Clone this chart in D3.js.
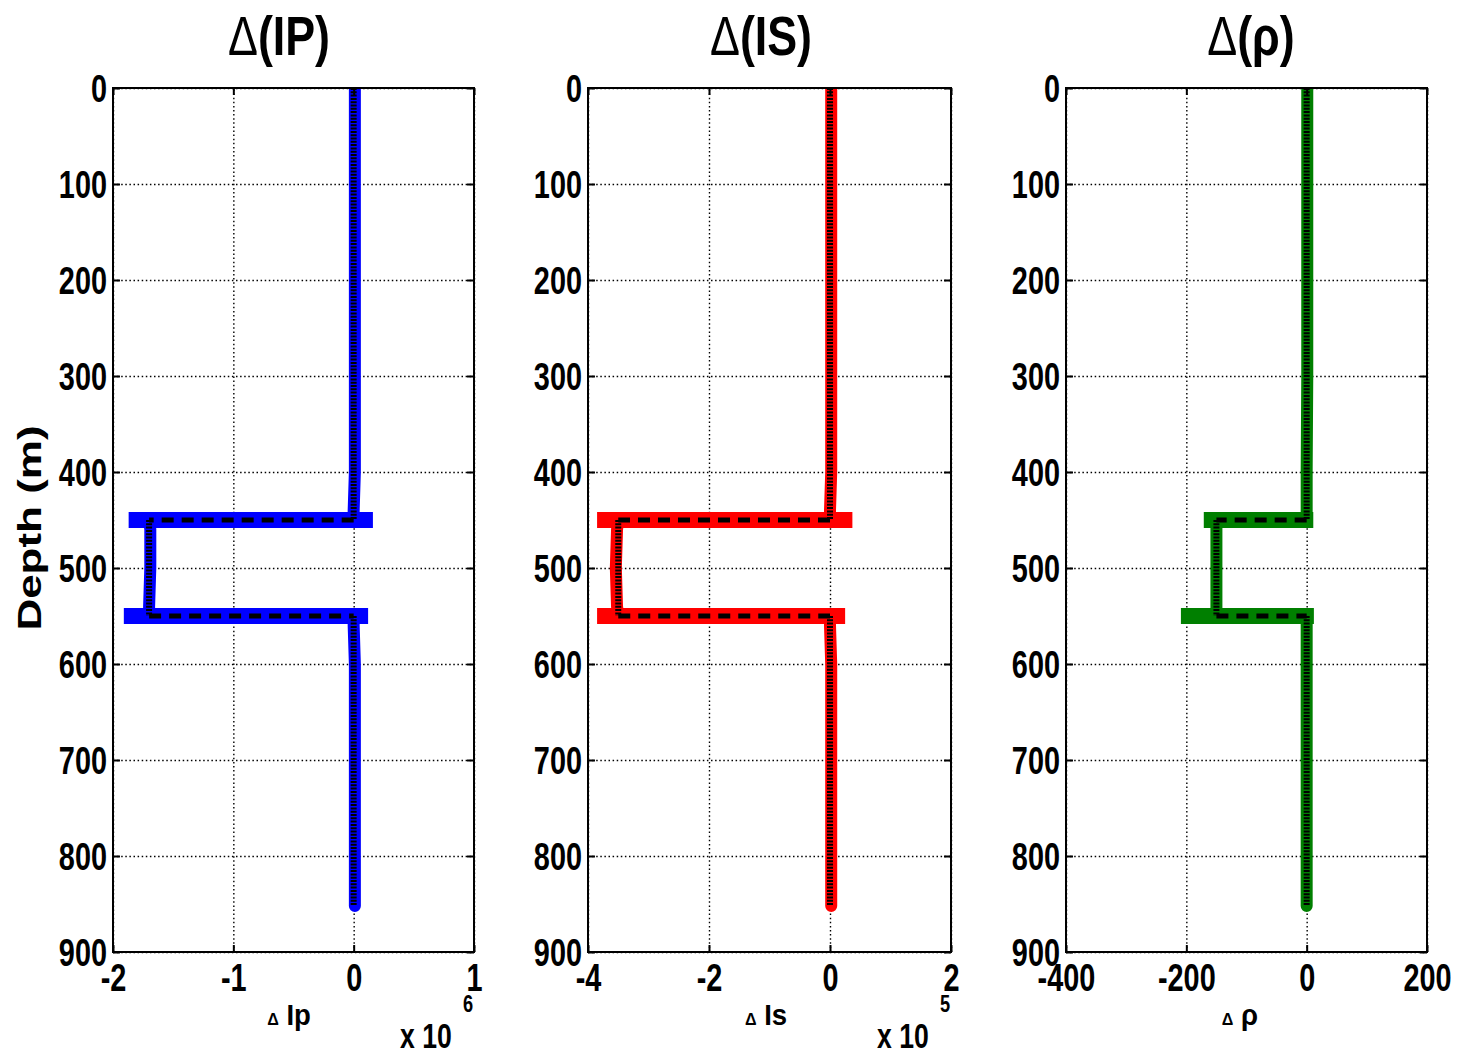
<!DOCTYPE html>
<html>
<head>
<meta charset="utf-8">
<script src="https://cdn.jsdelivr.net/npm/d3@7"></script>
<style>
  body { margin: 0; background: #fff; }
  text { font-family: "Liberation Sans", Arial, sans-serif; }
</style>
</head>
<body>
<svg id="chart" width="1459" height="1055"></svg>
<script>
// ---------- data ----------
const depthTicks = [0, 100, 200, 300, 400, 500, 600, 700, 800, 900];
const ipTicks = [-2, -1, 0, 1];          // x 10^6
const isTicks = [-4, -2, 0, 2];          // x 10^5
const rhoTicks = [-400, -200, 0, 200];

// estimated (inverted) curves
const ipDepth  = [0, 100, 200, 300, 400, 440, 450, 450, 460, 500, 540, 550, 550, 560, 600, 700, 800, 852];
const ipValue  = [0.01, 0.01, 0.01, 0.01, 0.01, 0.0, 0.0, -1.70, -1.69, -1.69, -1.70, -1.70, 0.0, 0.0, 0.01, 0.01, 0.01, 0.01];
const isDepth  = [0, 100, 200, 300, 400, 440, 450, 450, 460, 500, 540, 550, 550, 560, 600, 700, 800, 852];
const isValue  = [0.02, 0.02, 0.02, 0.02, 0.02, 0.0, 0.0, -3.5, -3.52, -3.54, -3.52, -3.5, 0.0, 0.0, 0.02, 0.02, 0.02, 0.02];
const rhoDepth = [0, 100, 200, 300, 400, 440, 450, 450, 460, 500, 540, 550, 550, 560, 600, 700, 800, 852];
const rhoValue = [1, 1, 1, 1, 0, 0, 0, -150, -150, -150, -150, -150, 0, 0, 0, 0, 0, 0];

// overshooting jump bars of the estimated curves
const jumpDepth = [450, 550];
const ipJumpFrom  = [-1.87, -1.91];
const ipJumpTo    = [0.16, 0.12];
const isJumpFrom  = [-3.85, -3.85];
const isJumpTo    = [0.37, 0.25];
const rhoJumpFrom = [-171, -209];
const rhoJumpTo   = [11, 12];

// true model (black dashed)
const trueDepth = [0, 450, 450, 550, 550, 852];
const ipTrue  = [0, 0, -1.7, -1.7, 0, 0];
const isTrue  = [0, 0, -3.5, -3.5, 0, 0];
const rhoTrue = [0, 0, -150, -150, 0, 0];

// ---------- layout ----------
const SX = 0.76;  // horizontal squeeze of the lettering
const plotTop = 88, plotBottom = 952;
const svg = d3.select('#chart');

const panels = [
  { title: '(IP)', tx: 279, x0: 113, x1: 474, domain: [-2, 1], ticks: ipTicks, color: '#0000ff',
    depth: ipDepth, value: ipValue, jFrom: ipJumpFrom, jTo: ipJumpTo, truth: ipTrue,
    xlabel: 'Ip', lx: 289, exp: '6' },
  { title: '(IS)', tx: 761, x0: 588, x1: 951, domain: [-4, 2], ticks: isTicks, color: '#ff0000',
    depth: isDepth, value: isValue, jFrom: isJumpFrom, jTo: isJumpTo, truth: isTrue,
    xlabel: 'Is', lx: 766, exp: '5' },
  { title: '(ρ)', tx: 1251, x0: 1066, x1: 1427, domain: [-400, 200], ticks: rhoTicks, color: '#007f00',
    depth: rhoDepth, value: rhoValue, jFrom: rhoJumpFrom, jTo: rhoJumpTo, truth: rhoTrue,
    xlabel: 'ρ', lx: 1240, exp: null }
];

const plain = d => String(d);   // hyphen minus, no decimals

function label(parent, x, y, str, size, anchor, weight, sx) {
  return parent.append('text')
    .attr('transform', `translate(${x},${y}) scale(${sx || SX},1)`)
    .attr('text-anchor', anchor || 'middle')
    .style('font-size', size + 'px')
    .style('font-weight', weight || 'bold')
    .text(str);
}

function squeezeTicks(sel) {
  sel.selectAll('.tick text').each(function () {
    const t = d3.select(this);
    t.attr('x', (+t.attr('x') || 0) / SX).attr('transform', `scale(${SX},1)`);
  });
}

panels.forEach((p, i) => {
  const x = d3.scaleLinear().domain(p.domain).range([p.x0, p.x1]);
  const y = d3.scaleLinear().domain([0, 900]).range([plotTop, plotBottom]);
  const w = p.x1 - p.x0, h = plotBottom - plotTop;
  const g = svg.append('g');

  g.append('clipPath').attr('id', 'clip' + i)
    .append('rect').attr('x', p.x0).attr('y', plotTop).attr('width', w).attr('height', h);

  // grid
  const grid = g.append('g').attr('class', 'grid');
  grid.append('g').attr('transform', `translate(0,${plotBottom})`)
    .call(d3.axisBottom(x).tickValues(p.ticks).tickSize(-h).tickFormat(''));
  grid.append('g').attr('transform', `translate(${p.x0},0)`)
    .call(d3.axisLeft(y).tickValues(depthTicks).tickSize(-w).tickFormat(''));
  grid.selectAll('.domain').remove();
  grid.selectAll('line')
    .attr('stroke', '#000').attr('stroke-width', 1.4).attr('stroke-dasharray', '1.5,2.6');

  const plot = g.append('g').attr('clip-path', `url(#clip${i})`);

  // estimated curve
  const pts = d3.zip(p.depth, p.value).map(d => ({ d: d[0], v: d[1] }));
  const line = d3.line().x(d => x(d.v)).y(d => y(d.d));
  plot.append('path')
    .attr('d', line(pts))
    .attr('fill', 'none')
    .attr('stroke', p.color)
    .attr('stroke-width', 12)
    .attr('stroke-linejoin', 'round')
    .attr('stroke-linecap', 'round');

  plot.selectAll('.jump')
    .data(jumpDepth.map((d, k) => ({ d: d, a: p.jFrom[k], b: p.jTo[k] })))
    .enter().append('line')
    .attr('class', 'jump')
    .attr('x1', d => x(d.a)).attr('x2', d => x(d.b))
    .attr('y1', d => y(d.d)).attr('y2', d => y(d.d))
    .attr('stroke', p.color)
    .attr('stroke-width', 16);

  // true model, dashed black, segment by segment
  const segs = [];
  for (let k = 0; k < trueDepth.length - 1; k++) {
    segs.push({ d1: trueDepth[k], d2: trueDepth[k + 1], v1: p.truth[k], v2: p.truth[k + 1] });
  }
  plot.selectAll('.truth')
    .data(segs)
    .enter().append('line')
    .attr('class', 'truth')
    .attr('x1', d => x(d.v1)).attr('x2', d => x(d.v2))
    .attr('y1', d => y(d.d1)).attr('y2', d => y(d.d2))
    .attr('stroke', '#000')
    .attr('stroke-width', d => d.d1 === d.d2 ? 5 : 6)
    .attr('stroke-dasharray', d => d.d1 === d.d2 ? '12,8' : '2,1.3');

  // axes with inward ticks on all sides
  const axB = g.append('g').attr('transform', `translate(0,${plotBottom})`)
    .call(d3.axisBottom(x).tickValues(p.ticks).tickFormat(plain)
      .tickSizeInner(-7).tickSizeOuter(0).tickPadding(0));
  axB.selectAll('.tick text').attr('y', 39).attr('dy', null);
  const axT = g.append('g').attr('transform', `translate(0,${plotTop})`)
    .call(d3.axisTop(x).tickValues(p.ticks).tickSizeInner(-7).tickSizeOuter(0).tickFormat(''));
  const axL = g.append('g').attr('transform', `translate(${p.x0},0)`)
    .call(d3.axisLeft(y).tickValues(depthTicks).tickFormat(plain)
      .tickSizeInner(-7).tickSizeOuter(0).tickPadding(6));
  axL.selectAll('.tick text').attr('y', 13).attr('dy', null);
  const axR = g.append('g').attr('transform', `translate(${p.x1},0)`)
    .call(d3.axisRight(y).tickValues(depthTicks).tickSizeInner(-7).tickSizeOuter(0).tickFormat(''));

  [axB, axT, axL, axR].forEach(a => {
    a.selectAll('.domain').remove();
    a.selectAll('.tick line').attr('stroke', '#000').attr('stroke-width', 2);
    a.selectAll('.tick text')
      .attr('fill', '#000')
      .style('font-size', '38px')
      .style('font-weight', 'bold')
      .style('font-family', '"Liberation Sans", Arial, sans-serif');
    squeezeTicks(a);
  });

  g.append('rect')
    .attr('x', p.x0).attr('y', plotTop).attr('width', w).attr('height', h)
    .attr('fill', 'none').attr('stroke', '#000').attr('stroke-width', 2);

  // title
  const t = svg.append('text')
    .attr('transform', `translate(${p.tx},55) scale(0.8,1)`)
    .attr('text-anchor', 'middle')
    .style('font-size', '56px');
  t.append('tspan').style('font-weight', 'normal').text('Δ');
  t.append('tspan').style('font-weight', 'bold').text(p.title);

  // x label
  const xl = label(svg, p.lx, 1025, '', 29, 'middle', 'bold', 0.95);
  xl.append('tspan').style('font-size', '17px').text('Δ');
  xl.append('tspan').text('  ' + p.xlabel);
  if (p.exp) {
    label(svg, p.x1 - 74, 1048, 'x 10', 35, 'start', 'bold');
    label(svg, p.x1 - 11, 1012, p.exp, 24, 'start', 'bold');
  }
});

// y label
svg.append('text')
  .attr('transform', `translate(41,528) scale(${SX},1) rotate(-90)`)
  .attr('text-anchor', 'middle')
  .style('font-size', '44px')
  .style('font-weight', 'bold')
  .text('Depth (m)');
</script>
</body>
</html>
